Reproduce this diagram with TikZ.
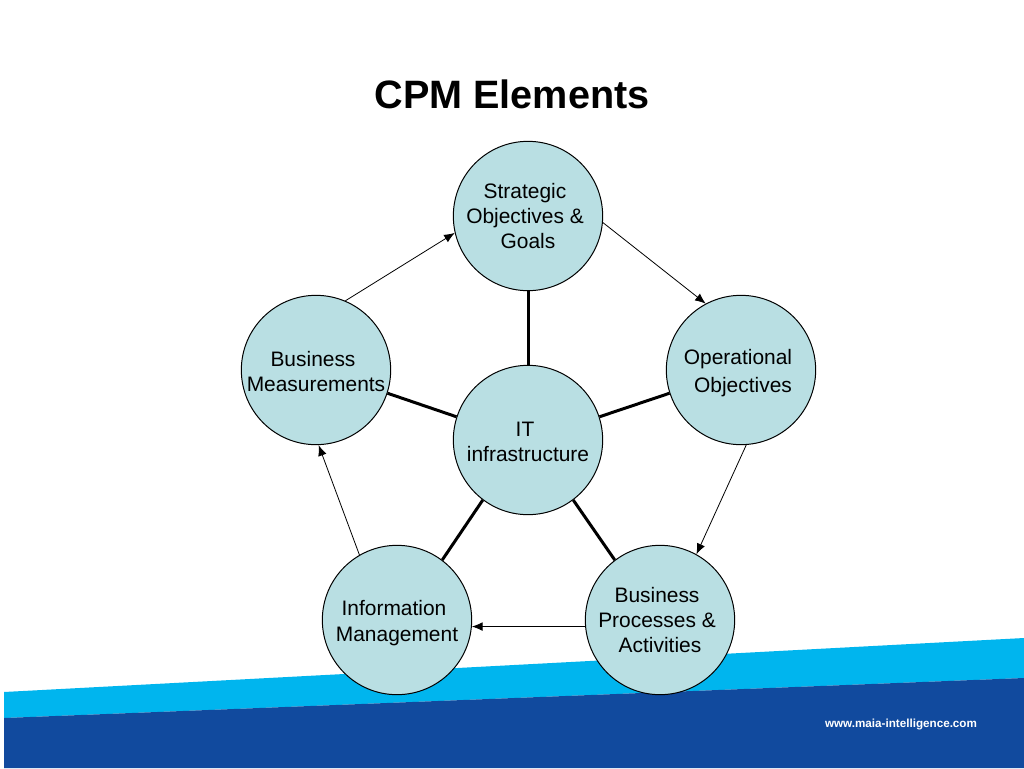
\documentclass[tikz,border=0pt]{standalone}
\usepackage{fontspec}
\setmainfont{Liberation Sans}
\usetikzlibrary{arrows.meta}
\definecolor{circfill}{HTML}{B9DFE3}
\definecolor{lightband}{HTML}{00B5EE}
\definecolor{darkband}{HTML}{114A9E}
\newcommand{\tl}[2]{\makebox[0pt]{\hspace*{#1pt}\rule[-3.9pt]{0pt}{19pt}#2}}
\newcommand{\tll}[2]{\makebox[0pt]{\hspace*{#1pt}\rule[-2.9pt]{0pt}{19pt}#2}}
\tikzset{
  x=0.75pt,y=-0.75pt,
  elem/.style={circle,draw=black,line width=0.75pt,fill=circfill,minimum size=112pt,inner sep=0pt,align=center,font=\fontsize{15.7}{19.1}\selectfont,text=black},
  flow/.style={draw=black,line width=0.6pt,-{Latex[length=8pt,width=6.5pt]}},
  spoke/.style={draw=black,line width=2.25pt}
}
\begin{document}
\begin{tikzpicture}
\useasboundingbox (0,0) rectangle (1024,768);
\fill[white] (0,0) rectangle (1024,768);
\fill[lightband] (4,692) -- (1024,638) -- (1024,678) -- (4,718) -- cycle;
\fill[darkband] (4,718) -- (1024,678) -- (1024,768) -- (4,768) -- cycle;
\node[font=\bfseries\fontsize{29.7}{34}\selectfont] (title) at (512,94) {CPM Elements};
\node[font=\bfseries\fontsize{8.75}{11}\selectfont,text=white] (web) at (901,724) {www.maia-intelligence.com};
\node[elem] (S) at (528,216) {\tl{-4.5}{Strategic}\\\tl{-4.5}{Objectives \&}\\\tl{0}{Goals}};
\node[elem] (O) at (741,370) {\tll{-4.5}{Operational}\\\tll{3}{Objectives}};
\node[elem] (B) at (660,620) {\tl{-4.5}{Business}\\\tl{-4.5}{Processes \&}\\\tl{0}{Activities}};
\node[elem] (I) at (397,620) {\tll{-4.5}{Information}\\\tll{0}{Management}};
\node[elem] (M) at (316,370) {\tll{-4.5}{Business}\\\tll{0}{Measurements}};
\node[elem] (C) at (528,440) {\tll{-4.5}{IT}\\\tll{0}{infrastructure}};
\draw[spoke] (S) -- (C);
\draw[spoke] (C.18) -- (O.198);
\draw[spoke] (C.-53) -- (B.127);
\draw[spoke] (C.233) -- (I.53);
\draw[spoke] (C.162) -- (M.-18);
\draw[flow] (M.67) -- (S.193);
\draw[flow] (S.-5) -- (O.118);
\draw[flow] (O.-86) -- (B.61);
\draw[flow] (B.185) -- (I.-5);
\draw[flow] (I.120) -- (M.-88);
\end{tikzpicture}
\end{document}
